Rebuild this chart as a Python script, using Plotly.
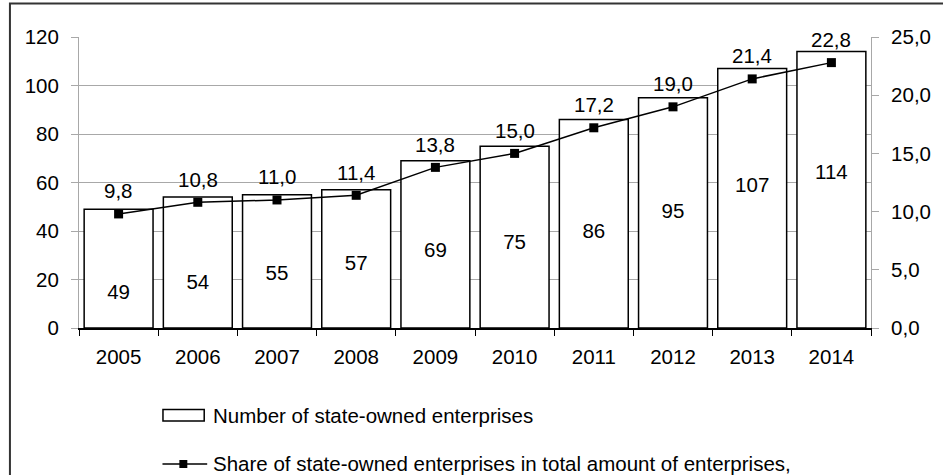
import plotly.graph_objects as go

# Data
years = ["2005", "2006", "2007", "2008", "2009", "2010", "2011", "2012", "2013", "2014"]
enterprises = [49, 54, 55, 57, 69, 75, 86, 95, 107, 114]
share_pct = [9.8, 10.8, 11.0, 11.4, 13.8, 15.0, 17.2, 19.0, 21.4, 22.8]
# heights (left-axis units) at which the count labels sit inside the bars
count_label_y = [13.9, 18.3, 21.8, 25.9, 31.4, 34.6, 39.1, 47.4, 58.0, 63.7]

bar_name = "Number of state-owned enterprises"
line_name = "Share of state-owned enterprises in total amount of enterprises,"

W, H = 943, 475
M_L, M_R, M_T, M_B = 79, 67, 37, 147
PW, PH = W - M_L - M_R, H - M_T - M_B
FONT = "Liberation Sans, Arial, sans-serif"
FS = 20.5
GRID = "#a8a8a8"


def px_x(px):
    return (px - M_L) / PW


def px_y(py):
    return 1 - (py - M_T) / PH


def comma1(v):
    return f"{v:.1f}".replace(".", ",")


fig = go.Figure()

fig.add_trace(go.Bar(
    x=years, y=enterprises, name=bar_name, yaxis="y",
    marker=dict(color="white", line=dict(color="black", width=1.5)),
    showlegend=False, hoverinfo="x+y",
))

# count labels inside the bars
fig.add_trace(go.Scatter(
    x=years, y=count_label_y, yaxis="y", mode="text",
    text=[str(v) for v in enterprises],
    textfont=dict(family=FONT, size=FS, color="black"),
    showlegend=False, hoverinfo="skip",
))

fig.add_trace(go.Scatter(
    x=years, y=share_pct, name=line_name, yaxis="y2",
    mode="lines+markers",
    line=dict(color="black", width=1.5),
    marker=dict(symbol="square", size=9, color="black"),
    showlegend=False,
))

# share labels above the markers
annotations = [
    dict(x=i, y=v, xref="x", yref="y2", yshift=23, text=comma1(v), showarrow=False,
         font=dict(family=FONT, size=FS, color="black"))
    for i, v in enumerate(share_pct)
]

# Legend drawn below the plot
shapes = [
    # outer frame
    dict(type="rect", xref="paper", yref="paper",
         x0=px_x(9.5), x1=px_x(990), y0=px_y(520), y1=px_y(3.5),
         line=dict(color="#333333", width=2), fillcolor="rgba(0,0,0,0)", layer="below"),
    # bar legend symbol
    dict(type="rect", xref="paper", yref="paper",
         x0=px_x(163.5), x1=px_x(205), y0=px_y(421), y1=px_y(409.5),
         line=dict(color="black", width=1.5), fillcolor="white"),
    # line legend symbol
    dict(type="line", xref="paper", yref="paper",
         x0=px_x(163), x1=px_x(208), y0=px_y(464), y1=px_y(464),
         line=dict(color="black", width=1.5)),
    dict(type="rect", xref="paper", yref="paper",
         x0=px_x(180), x1=px_x(188), y0=px_y(468), y1=px_y(460),
         line=dict(color="black", width=0), fillcolor="black"),
]
annotations += [
    dict(x=px_x(212), y=px_y(415), xref="paper", yref="paper", text=bar_name,
         showarrow=False, xanchor="left", yanchor="middle",
         font=dict(family=FONT, size=FS, color="black")),
    dict(x=px_x(212), y=px_y(463), xref="paper", yref="paper", text=line_name,
         showarrow=False, xanchor="left", yanchor="middle",
         font=dict(family=FONT, size=FS, color="black")),
]

fig.update_layout(
    width=W, height=H,
    margin=dict(l=M_L, r=M_R, t=M_T, b=M_B, pad=0),
    paper_bgcolor="white", plot_bgcolor="white",
    separators=", ",
    font=dict(family=FONT, size=FS, color="black"),
    bargap=0.13,
    xaxis=dict(
        type="category", categoryorder="array", categoryarray=years,
        range=[-0.5, len(years) - 0.5],
        tickson="boundaries", ticks="outside", ticklen=6,
        tickcolor="black", showline=True, linecolor="black", linewidth=1.5,
        showgrid=False, tickfont=dict(size=FS), tickangle=0, fixedrange=True,
        ticklabelstandoff=10,
    ),
    yaxis=dict(
        range=[0, 120], dtick=20, tick0=0, showgrid=True, gridcolor=GRID, gridwidth=1,
        zeroline=False, showline=True, linecolor=GRID, linewidth=1,
        ticks="outside", ticklen=7, tickcolor=GRID, ticklabelstandoff=8,
        tickfont=dict(size=FS),
    ),
    yaxis2=dict(
        range=[0, 25], dtick=5, tick0=0, overlaying="y", side="right",
        tickformat=".1f", showgrid=False, zeroline=False,
        showline=True, linecolor=GRID, linewidth=1,
        ticks="outside", ticklen=7, tickcolor=GRID, ticklabelstandoff=8,
        tickfont=dict(size=FS),
    ),
    shapes=shapes,
    annotations=annotations,
    showlegend=False,
)

fig.write_html("out.html")
